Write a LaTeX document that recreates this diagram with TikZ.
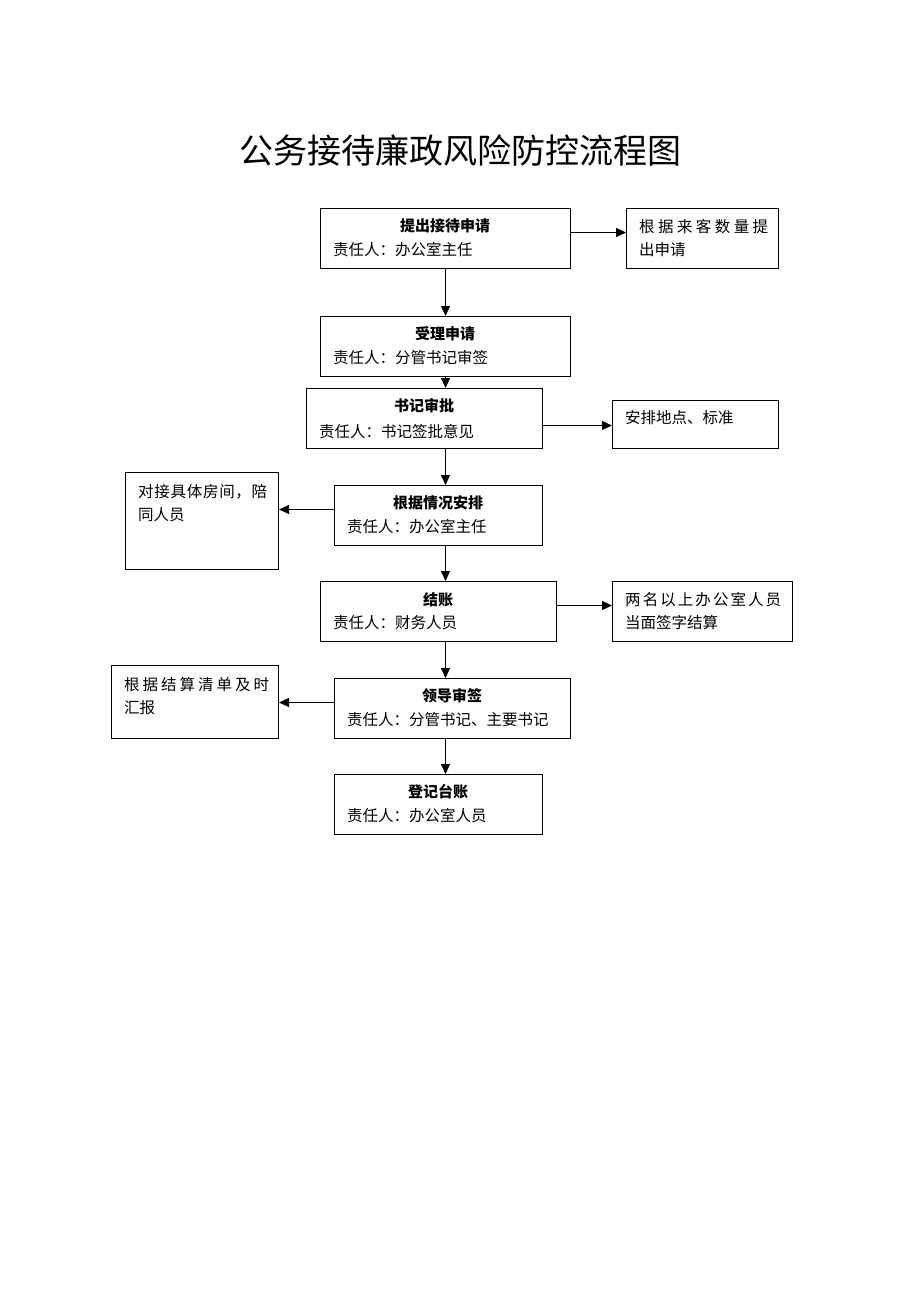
\documentclass[tikz,border=0pt]{standalone}
\usepackage{fontspec}
\setmainfont{Noto Sans CJK SC}
\usetikzlibrary{arrows.meta}
\tikzset{
  box/.style={draw, line width=1pt, inner sep=0pt, anchor=north west},
  arr/.style={line width=1pt, -{Triangle[length=10pt,width=9pt]}},
  ttl/.style={font=\fontsize{15}{15}\selectfont\bfseries, inner sep=0pt, anchor=center},
  txt/.style={font=\fontsize{15.5}{16}\selectfont, inner sep=0pt, anchor=west},
}
\begin{document}
\begin{tikzpicture}[x=1pt,y=-1pt]
\useasboundingbox (0,0) rectangle (920,1302);
\fill[white] (0,0) rectangle (920,1302);
\node[font=\fontsize{34}{34}\selectfont, inner sep=0pt] (title) at (460,151) {公务接待廉政风险防控流程图};

% main boxes
\node[box, minimum width=250pt, minimum height=60pt] (b1) at (320,208) {};
\node[box, minimum width=250pt, minimum height=60pt] (b2) at (320,316) {};
\node[box, minimum width=236pt, minimum height=60pt] (b3) at (306,388) {};
\node[box, minimum width=208pt, minimum height=60pt] (b4) at (334,485) {};
\node[box, minimum width=236pt, minimum height=60pt] (b5) at (320,581) {};
\node[box, minimum width=236pt, minimum height=60pt] (b6) at (334,678) {};
\node[box, minimum width=208pt, minimum height=60pt] (b7) at (334,774) {};

% side boxes
\node[box, minimum width=152pt, minimum height=60pt] (r1) at (626,208) {};
\node[box, minimum width=166pt, minimum height=48pt] (r2) at (612,400) {};
\node[box, minimum width=153pt, minimum height=97pt] (l1) at (125,472) {};
\node[box, minimum width=180pt, minimum height=60pt] (r3) at (612,581) {};
\node[box, minimum width=167pt, minimum height=73pt] (l2) at (111,665) {};

% main box texts
\node[ttl] (t1) at (445,226) {提出接待申请};
\node[txt] (s1) at (333,250) {责任人：办公室主任};
\node[ttl] (t2) at (445,334) {受理申请};
\node[txt] (s2) at (333,358) {责任人：分管书记审签};
\node[ttl] (t3) at (424,406) {书记审批};
\node[txt] (s3) at (319,432) {责任人：书记签批意见};
\node[ttl] (t4) at (438,503) {根据情况安排};
\node[txt] (s4) at (347,527) {责任人：办公室主任};
\node[ttl] (t5) at (438,600) {结账};
\node[txt] (s5) at (333,623) {责任人：财务人员};
\node[ttl] (t6) at (452,696) {领导审签};
\node[txt] (s6) at (347,720) {责任人：分管书记、主要书记};
\node[ttl] (t7) at (438,792) {登记台账};
\node[txt] (s7) at (347,816) {责任人：办公室人员};

% side texts
\node[txt] (r1a) at (639,227) {\makebox[129pt][s]{根\hfill 据\hfill 来\hfill 客\hfill 数\hfill 量\hfill 提}};
\node[txt] (r1b) at (639,250) {出申请};
\node[txt] (r2a) at (625,418) {安排地点、标准};
\node[txt] (l1a) at (138,492) {\makebox[129pt][s]{对\hfill 接\hfill 具\hfill 体\hfill 房\hfill 间\hfill ，\hfill 陪}};
\node[txt] (l1b) at (138,515) {同人员};
\node[txt] (r3a) at (625,600) {\makebox[156pt][s]{两\hfill 名\hfill 以\hfill 上\hfill 办\hfill 公\hfill 室\hfill 人\hfill 员}};
\node[txt] (r3b) at (625,623) {当面签字结算};
\node[txt] (l2a) at (124,685) {\makebox[145pt][s]{根\hfill 据\hfill 结\hfill 算\hfill 清\hfill 单\hfill 及\hfill 时}};
\node[txt] (l2b) at (124,708) {汇报};

% vertical arrows
\draw[arr] (b1.south) -- (b1.south |- b2.north);
\draw[arr] (b1.south |- b2.south) -- (b1.south |- b3.north);
\draw[arr] (b1.south |- b3.south) -- (b1.south |- b4.north);
\draw[arr] (b1.south |- b4.south) -- (b1.south |- b5.north);
\draw[arr] (b1.south |- b5.south) -- (b1.south |- b6.north);
\draw[arr] (b1.south |- b6.south) -- (b1.south |- b7.north);

% horizontal arrows
\draw[arr] ([yshift=6pt]b1.east) -- ([yshift=6pt]b1.east -| r1.west);
\draw[arr] ([yshift=-7pt]b3.east) -- ([yshift=-7pt]b3.east -| r2.west);
\draw[arr] ([yshift=6pt]b4.west) -- ([yshift=6pt]b4.west -| l1.east);
\draw[arr] ([yshift=6pt]b5.east) -- ([yshift=6pt]b5.east -| r3.west);
\draw[arr] ([yshift=6pt]b6.west) -- ([yshift=6pt]b6.west -| l2.east);
\end{tikzpicture}
\end{document}
